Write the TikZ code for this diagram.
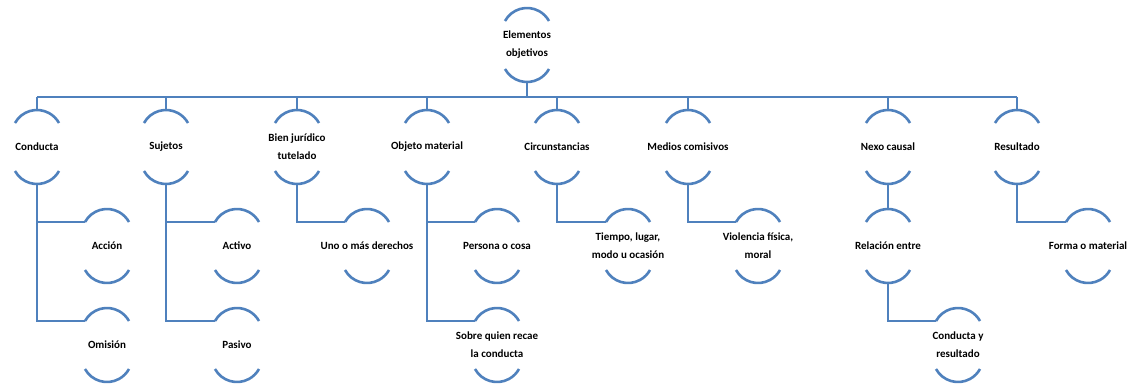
\documentclass[tikz,border=0pt]{standalone}
\usepackage{fontspec}
\setmainfont{Carlito}
\usetikzlibrary{calc}
\definecolor{ln}{RGB}{79,129,189}
\tikzset{
  el/.style={rectangle, minimum height=74pt, minimum width=44pt, inner sep=0pt,
    font=\bfseries\fontsize{11}{18}\selectfont, align=center, text=black},
  conn/.style={draw=ln, line width=2.4pt},
  arcst/.style={draw=ln, line width=2.6pt},
}
\newcommand{\arcsof}[1]{%
  \draw[arcst] ($(#1.center)+(-22,24)$) arc[start angle=151.2, end angle=28.8, radius=25.1pt];
  \draw[arcst] ($(#1.center)+(-22,-24)$) arc[start angle=208.8, end angle=331.2, radius=25.1pt];
  \coordinate (#1-l) at ($(#1.center)+(-22,24)$);
}
\begin{document}
\begin{tikzpicture}[x=1pt,y=1pt]
\useasboundingbox (0,0) rectangle (1132,-383);
\fill[white] (0,0) rectangle (1132,-383);
% nodes
\node[el] (top) at (527,-45) {Elementos\\objetivos};
\node[el] (c1) at (37,-147) {Conducta};
\node[el] (c2) at (166,-147) {Sujetos};
\node[el] (c3) at (297,-147) {Bien jurídico\\tutelado};
\node[el] (c4) at (427,-147) {Objeto material};
\node[el] (c5) at (557,-147) {Circunstancias};
\node[el] (c6) at (688,-147) {Medios comisivos};
\node[el] (c7) at (888,-147) {Nexo causal};
\node[el] (c8) at (1017,-147) {Resultado};
\node[el] (a1) at (107,-246) {Acción};
\node[el] (a2) at (107,-345) {Omisión};
\node[el] (b1) at (237,-246) {Activo};
\node[el] (b2) at (237,-345) {Pasivo};
\node[el] (d1) at (367,-246) {Uno o más derechos};
\node[el] (e1) at (497,-246) {Persona o cosa};
\node[el] (e2) at (497,-345) {Sobre quien recae\\la conducta};
\node[el] (f1) at (628,-246) {Tiempo, lugar,\\modo u ocasión};
\node[el] (g1) at (758,-246) {Violencia física,\\moral};
\node[el] (h1) at (888,-246) {Relación entre};
\node[el] (h2) at (958,-345) {Conducta y\\resultado};
\node[el] (i1) at (1088,-246) {Forma o material};
\foreach \n in {top,c1,c2,c3,c4,c5,c6,c7,c8,a1,a2,b1,b2,d1,e1,e2,f1,g1,h1,h2,i1}{\arcsof{\n}}
\coordinate (bar) at (527,-97);
% connectors
\draw[conn] (top.south) -- (top.south |- bar);
\draw[conn] (c1.north |- bar) -- (c8.north |- bar);
\foreach \n in {c1,c2,c3,c4,c5,c6,c7,c8}{\draw[conn] (\n.north) -- (\n.north |- bar);}
\draw[conn] (c1.south) |- (a1-l);
\draw[conn] (c1.south) |- (a2-l);
\draw[conn] (c2.south) |- (b1-l);
\draw[conn] (c2.south) |- (b2-l);
\draw[conn] (c3.south) |- (d1-l);
\draw[conn] (c4.south) |- (e1-l);
\draw[conn] (c4.south) |- (e2-l);
\draw[conn] (c5.south) |- (f1-l);
\draw[conn] (c6.south) |- (g1-l);
\draw[conn] (c7.south) -- (h1.north);
\draw[conn] (h1.south) |- (h2-l);
\draw[conn] (c8.south) |- (i1-l);
\end{tikzpicture}
\end{document}
